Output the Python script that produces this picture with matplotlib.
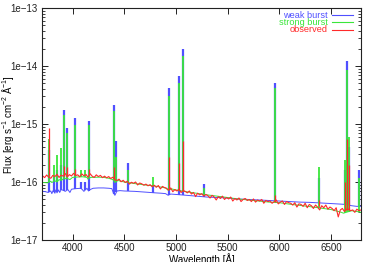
import numpy as np
import matplotlib
matplotlib.use("Agg")
import matplotlib.pyplot as plt
from matplotlib.ticker import FixedLocator, LogLocator, FuncFormatter, NullFormatter

plt.rcParams['font.family'] = ['Liberation Sans', 'DejaVu Sans']
plt.rcParams['mathtext.fontset'] = 'custom'
plt.rcParams['mathtext.rm'] = 'Liberation Sans'
plt.rcParams['mathtext.it'] = 'Liberation Sans:italic'

SCALE = 1e-17

# ---------------- weak burst model (blue) ----------------
weak_wl = [3710, 3740, 3765, 3790, 3800, 3812, 3830, 3838, 3850, 3866, 3876, 3890,
           3910, 3930, 3955, 3965, 3975, 3990, 4010, 4040, 4080, 4095, 4110, 4140,
           4155, 4170, 4200, 4250, 4300, 4350, 4380, 4395, 4410, 4430, 4460, 4500,
           4600, 4700, 4800, 4860, 4900, 4925, 4950, 5000, 5100, 5200, 5300, 5400,
           5500, 5600, 5700, 5800, 5900, 6000, 6100, 6200, 6300, 6400, 6500, 6550,
           6600, 6640, 6700, 6750, 6790]
weak_flux = [6.9, 6.8, 6.6, 7.0, 6.3, 7.1, 6.4, 7.3, 6.5, 7.3, 6.6, 7.4,
             7.2, 6.9, 7.4, 7.0, 6.6, 7.5, 7.6, 7.7, 7.8, 7.4, 6.9, 7.8,
             7.0, 7.4, 7.8, 7.9, 7.9, 7.8, 7.7, 6.5, 5.9, 7.0, 7.1, 7.0,
             6.9, 6.7, 6.5, 6.4, 6.3, 5.9, 6.2, 6.1, 5.9, 5.7, 5.5, 5.4,
             5.3, 5.1, 5.0, 4.9, 4.8, 4.7, 4.6, 4.5, 4.45, 4.35, 4.25, 4.2,
             4.15, 4.1, 3.9, 3.8, 3.8]

# ---------------- strong burst model (green) ----------------
strong_wl = [3710, 3760, 3790, 3800, 3830, 3850, 3870, 3890, 3910, 3950, 3975, 4000,
             4050, 4100, 4140, 4150, 4175, 4250, 4300, 4350, 4390, 4410, 4440, 4500,
             4600, 4700, 4800, 4900, 4925, 4960, 5000, 5100, 5200, 5300, 5400, 5500,
             5600, 5700, 5800, 5900, 6000, 6100, 6200, 6300, 6400, 6500, 6600, 6620,
             6700, 6750, 6790]
strong_flux = [9.8, 9.7, 10.3, 9.8, 10.5, 10.0, 11.0, 10.6, 11.3, 11.5, 11.0, 12.0,
               12.2, 12.3, 12.0, 11.2, 12.0, 12.1, 12.0, 11.6, 11.0, 9.8, 10.6, 10.0,
               9.4, 8.9, 8.5, 7.9, 7.2, 7.6, 7.3, 6.8, 6.4, 6.0, 5.7, 5.4,
               5.1, 4.9, 4.7, 4.5, 4.4, 4.15, 3.95, 3.75, 3.55, 3.35, 3.0, 2.9,
               3.2, 3.1, 3.0]

# ---------------- emission lines (observed wavelengths) ----------------
line_wl = [3776, 3822, 3853, 3889, 3921, 3944, 4024, 4085, 4121, 4160, 4401, 4423,
           4536, 4774, 4929, 5028, 5070, 5269, 5955, 6383, 6631, 6653, 6672, 6766]
weak_line_peak = [36, 12, 16, 20, 174, 85, 129, 10, 10, 112, 210, 50,
                  21.6, 9, 410, 680, 1960, 9.3, 500, 11.7, 16, 1220, 40, 16]
strong_line_peak = [56, 19.6, 29, 38, 143, 70, 96, 16, 16, 96, 170, 27,
                    16, 12.3, 300, 500, 1500, 8, 410, 17.8, 24, 850, 60, 11.7]

# ---------------- observed spectrum (red) ----------------
obs_wl = np.arange(3710, 6791, 20)
obs_flux = [12.8, 11.9, 13.2, 12.1, 11.6, 13.0, 12.4, 13.6, 12.0, 13.1,
            12.6, 14.0, 12.2, 13.4, 12.7, 14.1, 12.9, 13.3, 12.3, 13.8,
            12.8, 13.5, 12.1, 13.9, 12.6, 12.0, 13.3, 12.4, 13.0, 11.9,
            12.6, 11.8, 12.4, 11.5, 12.1, 11.0, 10.6, 11.2, 10.1, 10.7,
            9.8, 10.3, 9.2, 9.9, 9.5, 10.0, 8.9, 9.6, 9.3, 8.8,
            9.2, 8.6, 9.0, 8.3, 8.8, 8.1, 8.7, 7.6, 8.4, 8.0,
            7.8, 7.2, 7.9, 6.8, 7.4, 7.0, 7.5, 6.6, 7.1, 6.9,
            6.5, 7.0, 6.2, 6.6, 5.6, 6.4, 6.0, 6.3, 5.7, 6.1,
            5.8, 5.3, 5.9, 5.5, 4.9, 5.6, 5.2, 5.7, 5.0, 5.4,
            5.1, 5.5, 4.7, 5.2, 4.9, 5.3, 4.6, 5.0, 5.2, 4.8,
            5.0, 4.6, 5.1, 4.5, 4.9, 4.7, 5.0, 4.3, 4.8, 4.6,
            4.7, 4.3, 4.6, 4.9, 4.2, 4.5, 4.7, 4.1, 4.6, 4.4,
            4.3, 4.0, 4.4, 3.7, 4.2, 4.1, 3.8, 4.3, 3.6, 4.1,
            3.9, 3.5, 4.0, 3.7, 3.3, 3.9, 3.6, 4.0, 3.4, 3.7,
            3.5, 3.2, 3.6, 2.5, 3.3, 3.5, 3.1, 3.4, 3.4, 3.2,
            3.3, 3.0, 3.4, 3.2, 3.3]
obs_line_wl = [3776, 3921, 3944, 4024, 4160, 4401, 4929, 5028, 5070, 5955, 6383, 6631, 6653, 6672]
obs_line_peak = [85, 19, 18, 17, 16.5, 18, 27, 21.5, 50, 6, 4.8, 10, 56, 20]
obs_line_base = [12.5, 12.8, 13.0, 13.2, 13.0, 11.0, 7.5, 7.2, 7.0, 4.6, 3.8, 3.3, 3.3, 3.3]

BLUE = '#5050ff'
GREEN = '#3ae63a'
RED = '#ff2a2a'

fig = plt.figure(figsize=(3.74, 2.62), dpi=100)
ax = fig.add_axes([42/374, 1-240/262, 319/374, 232/262])

def sc(a):
    return np.asarray(a, dtype=float) * SCALE

weak_base = np.interp(line_wl, weak_wl, weak_flux)
strong_base = np.interp(line_wl, strong_wl, strong_flux)

ax.plot(weak_wl, sc(weak_flux), color=BLUE, lw=0.7)
ax.vlines(line_wl, sc(weak_base), sc(weak_line_peak), color=BLUE, lw=1.6)
ax.plot(strong_wl, sc(strong_flux), color=GREEN, lw=0.7)
ax.vlines(line_wl, sc(strong_base), sc(strong_line_peak), color=GREEN, lw=1.3)
ax.plot(obs_wl, sc(obs_flux), color=RED, lw=0.8)
ax.vlines(obs_line_wl, sc(obs_line_base), sc(obs_line_peak), color=RED, lw=0.9)

ax.set_yscale('log')
ax.set_xlim(3705, 6790)
ax.set_ylim(1e-17, 1e-13)

ax.xaxis.set_major_locator(FixedLocator([4000, 4500, 5000, 5500, 6000, 6500]))
ax.yaxis.set_major_locator(LogLocator(base=10, numticks=10))
ax.yaxis.set_minor_locator(LogLocator(base=10, subs=np.arange(2, 10), numticks=20))
ax.yaxis.set_minor_formatter(NullFormatter())
ax.yaxis.set_major_formatter(FuncFormatter(lambda v, p: "1e\u2212%d" % int(round(-np.log10(v)))))

ax.tick_params(which='both', direction='in', top=True, right=True, labelsize=7, colors='#222222')
ax.tick_params(which='major', length=4, width=0.7, pad=3)
ax.tick_params(axis='x', which='major', pad=2)
ax.tick_params(which='minor', length=2, width=0.6)
for s in ax.spines.values():
    s.set_linewidth(0.8)
    s.set_color('#222222')

ax.set_xlabel('Wavelength [Å]', fontsize=7)
ax.set_ylabel('Flux [erg s$^{-1}$ cm$^{-2}$ Å$^{-1}$]', fontsize=7)
ax.xaxis.set_label_coords(0.5, -(253-240)/232)
ax.xaxis.label.set_va('top')
ax.yaxis.set_label_coords(-(42-8)/319, 0.5)
ax.yaxis.label.set_va('center')

# legend (gnuplot style: right-aligned text, sample line on the right)
labels = ['weak burst', 'strong burst', 'observed']
colors = [BLUE, GREEN, RED]
rows = [0.9685, 0.938, 0.9065]
for lab, c, yy in zip(labels, colors, rows):
    ax.text(0.8966, yy, lab, transform=ax.transAxes, ha='right', va='center',
            color=c, fontsize=6.6)
    ax.plot([0.909, 0.975], [yy, yy], transform=ax.transAxes, color=c, lw=0.8)

fig.savefig('out.png', dpi=100)
